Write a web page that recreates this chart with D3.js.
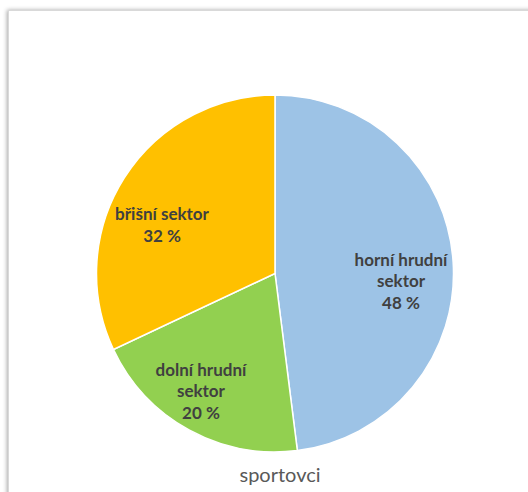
<!DOCTYPE html>
<html>
<head>
<meta charset="utf-8">
<script src="https://cdn.jsdelivr.net/npm/d3@7"></script>
<style>
  html, body { margin: 0; padding: 0; background: #fff; }
  svg { display: block; }
</style>
</head>
<body>
<svg id="chart" width="528" height="492"></svg>
<script>
// Sector shares, clockwise from 12 o'clock
const sectors = ["horní hrudní sektor", "dolní hrudní sektor", "břišní sektor"];
const shares = [48, 20, 32];
const labelLines = [["horní hrudní", "sektor"], ["dolní hrudní", "sektor"], ["břišní sektor"]];
const colors = ["#9DC3E6", "#92D050", "#FFC000"];
const title = "sportovci";

const svg = d3.select("#chart");

// framed chart area with soft shadow
const defs = svg.append("defs");
const f = defs.append("filter").attr("id", "shadow")
  .attr("x", "-5%").attr("y", "-5%").attr("width", "110%").attr("height", "110%");
f.append("feDropShadow").attr("dx", -1).attr("dy", 0).attr("stdDeviation", 2)
  .attr("flood-color", "#000").attr("flood-opacity", 0.35);

svg.append("rect")
  .attr("x", 8.5).attr("y", 10.5).attr("width", 560).attr("height", 520)
  .attr("fill", "#fff").attr("stroke", "#d9d9d9").attr("stroke-width", 1)
  .attr("filter", "url(#shadow)");

const cx = 275, cy = 273.5, r = 178.5;
const g = svg.append("g").attr("transform", `translate(${cx},${cy})`);

const pie = d3.pie().sort(null).value(d => d.value);
const arcs = pie(sectors.map((s, i) => ({ name: s, value: shares[i], i })));
const arc = d3.arc().innerRadius(0).outerRadius(r);

g.selectAll("path.slice").data(arcs).join("path")
  .attr("class", "slice")
  .attr("d", arc)
  .attr("fill", d => colors[d.data.i])
  .attr("stroke", "#fff").attr("stroke-width", 1.5);

// label block centres, as fractions of the radius (x right, y down)
const labelAnchor = [[0.706, 0.048], [-0.415, 0.664], [-0.633, -0.266]];
const lineH = 21.5;
g.selectAll("text.lbl").data(arcs).join("text")
  .attr("class", "lbl")
  .attr("font-family", "Lato, 'Open Sans', sans-serif")
  .attr("font-weight", "bold").attr("font-size", 17)
  .attr("fill", "#404040").attr("text-anchor", "middle")
  .each(function (d) {
    const [fx, fy] = labelAnchor[d.data.i];
    const x = fx * r, y = fy * r;
    const lines = labelLines[d.data.i].concat([d.data.value + " %"]);
    const t = d3.select(this);
    const y0 = y - (lines.length - 1) * lineH / 2 + 5;
    lines.forEach((ln, k) => {
      t.append("tspan").attr("x", x).attr("y", y0 + k * lineH).text(ln);
    });
  });

svg.append("text")
  .attr("x", 280).attr("y", 482)
  .attr("text-anchor", "middle")
  .attr("font-family", "Lato, 'Open Sans', sans-serif")
  .attr("font-size", 20).attr("fill", "#595959")
  .text(title);
</script>
</body>
</html>
